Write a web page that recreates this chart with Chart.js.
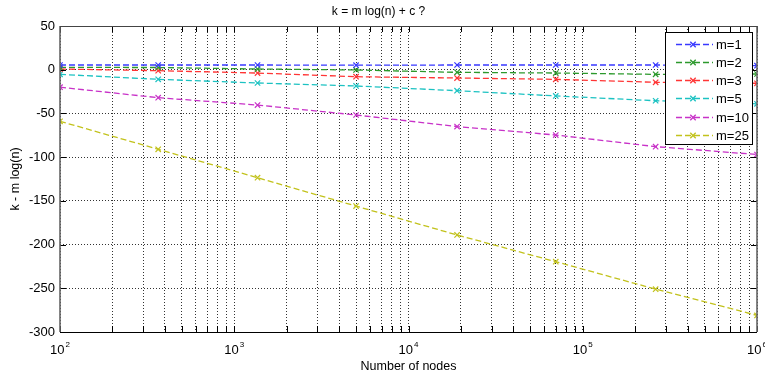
<!DOCTYPE html>
<html>
<head>
<meta charset="utf-8">
<script src="https://cdn.jsdelivr.net/npm/chart.js@4/dist/chart.umd.min.js"></script>
<style>
  body { margin: 0; background: #fff; }
  canvas { display: block; }
</style>
</head>
<body>
<canvas id="chart" width="765" height="376"></canvas>
<script>
// number of nodes (x) where the markers sit
var nodes = [100, 366, 1360, 5000, 19000, 70000, 262000, 1000000];

// k - m log(n), one list per m
var m1  = [5.4, 5.4, 5.4, 5.2, 5.4, 5.4, 5.4, 4.6];
var m2  = [2.7, 2.5, 0.8, -0.3, -3, -3.8, -5.3, -4.9];
var m3  = [0.8, -1.1, -3.8, -8, -9.5, -11, -14.4, -15.5];
var m5  = [-5.3, -11, -15.2, -18.6, -24, -30, -35.5, -39];
var m10 = [-20, -32, -40.4, -51.8, -65, -74.7, -88, -97];
var m25 = [-59, -91, -123.5, -156, -189, -219.6, -251, -281];

var seriesLabels = ['m=1', 'm=2', 'm=3', 'm=5', 'm=10', 'm=25'];
var seriesColors = ['#3838ff', '#2c992c', '#ff3535', '#1cc2c2', '#c832c8', '#c2c21c'];
var seriesValues = [m1, m2, m3, m5, m10, m25];

var xPowers = [2, 3, 4, 5, 6];
var yTicks = { min: -300, max: 50, step: 50 };

var FONT = "'Liberation Sans', Arial, Helvetica, sans-serif";

function toPoints(vals) {
    return nodes.map(function(n, i) { return { x: n, y: vals[i] }; });
}

var datasets = seriesValues.map(function(vals, i) {
    return {
        label: seriesLabels[i],
        data: toPoints(vals),
        borderColor: seriesColors[i],
        backgroundColor: seriesColors[i],
        borderWidth: 1.3,
        borderDash: [6, 3],
        tension: 0,
        fill: false,
        pointStyle: 'crossRot',
        pointRadius: 3.8,
        pointBorderWidth: 1.2,
        pointBorderColor: seriesColors[i]
    };
});

// frame, inward ticks, 10^n labels and the boxed legend, like the matlab figure
var matlabLook = {
    id: 'matlabLook',
    afterDraw: function(chart) {
        var ctx = chart.ctx;
        var a = chart.chartArea;
        var xs = chart.scales.x;
        var ys = chart.scales.y;
        ctx.save();

        // inward tick marks
        ctx.strokeStyle = '#000';
        ctx.lineWidth = 1;
        ctx.beginPath();
        xs.ticks.forEach(function(t) {
            var px = Math.round(xs.getPixelForValue(t.value)) + 0.5;
            ctx.moveTo(px, a.bottom); ctx.lineTo(px, a.bottom - 6);
            ctx.moveTo(px, a.top); ctx.lineTo(px, a.top + 6);
        });
        ys.ticks.forEach(function(t) {
            var py = Math.round(ys.getPixelForValue(t.value)) + 0.5;
            ctx.moveTo(a.left, py); ctx.lineTo(a.left + 6, py);
            ctx.moveTo(a.right, py); ctx.lineTo(a.right - 6, py);
        });
        ctx.stroke();

        // axes box
        ctx.strokeStyle = '#666';
        ctx.lineWidth = 1.6;
        ctx.beginPath();
        ctx.moveTo(a.left, a.top); ctx.lineTo(a.left, a.bottom);
        ctx.moveTo(a.right, a.top); ctx.lineTo(a.right, a.bottom);
        ctx.stroke();
        ctx.strokeStyle = '#444';
        ctx.lineWidth = 1;
        ctx.beginPath();
        ctx.moveTo(a.left, Math.round(a.top) + 0.5); ctx.lineTo(a.right, Math.round(a.top) + 0.5);
        ctx.stroke();
        ctx.strokeStyle = '#000';
        ctx.beginPath();
        ctx.moveTo(a.left, Math.round(a.bottom) + 0.5); ctx.lineTo(a.right, Math.round(a.bottom) + 0.5);
        ctx.stroke();

        // x tick labels 10^n
        ctx.fillStyle = '#000';
        ctx.textBaseline = 'alphabetic';
        ctx.textAlign = 'left';
        xPowers.forEach(function(p) {
            var px = xs.getPixelForValue(Math.pow(10, p));
            ctx.font = '13px ' + FONT;
            var w1 = ctx.measureText('10').width;
            ctx.font = '8px ' + FONT;
            var w2 = ctx.measureText(String(p)).width;
            var x0 = px - (w1 + w2 + 1) / 2;
            ctx.font = '13px ' + FONT;
            ctx.fillText('10', x0, a.bottom + 22);
            ctx.font = '8px ' + FONT;
            ctx.fillText(String(p), x0 + w1 + 1, a.bottom + 15);
        });

        // legend box
        var lw = 87, lh = 112;
        var lx = a.right - 5 - lw, ly = a.top + 6;
        ctx.fillStyle = '#fff';
        ctx.fillRect(lx, ly, lw, lh);
        ctx.strokeStyle = '#000';
        ctx.lineWidth = 1;
        ctx.strokeRect(Math.round(lx) + 0.5, Math.round(ly) + 0.5, lw, lh);
        ctx.font = '13px ' + FONT;
        ctx.textBaseline = 'middle';
        chart.data.datasets.forEach(function(ds, i) {
            var yy = Math.round(ly + 11.5 + i * 18.3) + 0.5;
            ctx.strokeStyle = ds.borderColor;
            ctx.lineWidth = 1.3;
            ctx.setLineDash([6, 3]);
            ctx.beginPath();
            ctx.moveTo(lx + 11, yy); ctx.lineTo(lx + 48, yy);
            ctx.stroke();
            ctx.setLineDash([]);
            var cx = lx + 28, r = 2.7;
            ctx.beginPath();
            ctx.moveTo(cx - r, yy - r); ctx.lineTo(cx + r, yy + r);
            ctx.moveTo(cx - r, yy + r); ctx.lineTo(cx + r, yy - r);
            ctx.stroke();
            ctx.fillStyle = '#000';
            ctx.fillText(ds.label, lx + 51, yy + 1);
        });
        ctx.restore();
    }
};

new Chart(document.getElementById('chart'), {
    type: 'line',
    data: { datasets: datasets },
    plugins: [matlabLook],
    options: {
        responsive: false,
        animation: false,
        devicePixelRatio: 1,
        layout: { padding: { right: 8 } },
        plugins: {
            legend: { display: false },
            tooltip: { enabled: false },
            title: {
                display: true,
                text: 'k = m log(n) + c ?',
                color: '#000',
                font: { family: FONT, size: 12, weight: 'normal' },
                padding: { top: 4, bottom: 7.6 }
            }
        },
        scales: {
            x: {
                type: 'logarithmic',
                min: 100,
                max: 1000000,
                afterBuildTicks: function(scale) {
                    scale.ticks = scale.ticks.filter(function(t) {
                        var r = t.value / Math.pow(10, Math.floor(Math.log10(t.value) + 1e-9));
                        return Math.abs(r - Math.round(r)) < 1e-6;
                    });
                },
                afterFit: function(scale) { scale.height = 44; },
                ticks: { display: false, autoSkip: false },
                grid: { color: 'rgba(0,0,0,0.8)', lineWidth: 1, drawTicks: false },
                border: { display: false, dash: [1, 2] },
                title: {
                    display: true,
                    text: 'Number of nodes',
                    color: '#000',
                    font: { family: FONT, size: 12.5 },
                    padding: { top: 0, bottom: 2 }
                }
            },
            y: {
                min: yTicks.min,
                max: yTicks.max,
                afterFit: function(scale) { scale.width = 60; },
                ticks: {
                    stepSize: yTicks.step,
                    color: '#000',
                    padding: 5,
                    font: { family: FONT, size: 13 }
                },
                grid: { color: 'rgba(0,0,0,0.8)', lineWidth: 1, drawTicks: false },
                border: { display: false, dash: [1, 2] },
                title: {
                    display: true,
                    text: 'k - m log(n)',
                    color: '#000',
                    font: { family: FONT, size: 12.5 },
                    padding: { top: 8, bottom: 0 }
                }
            }
        }
    }
});
</script>
</body>
</html>
